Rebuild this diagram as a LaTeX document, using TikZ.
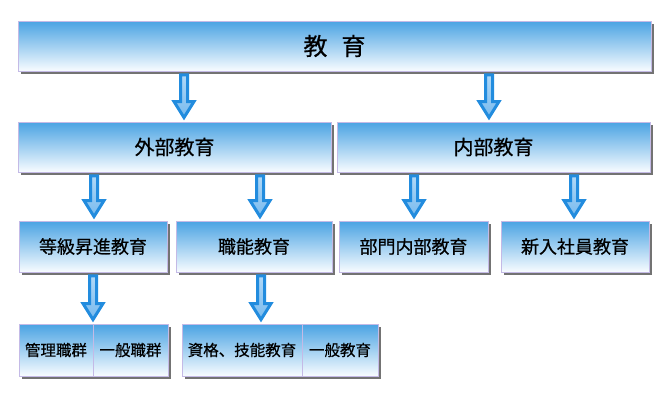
\documentclass[tikz,border=0pt]{standalone}
\usepackage{fontspec}
\newfontfamily\jp[FakeBold=0.6]{Noto Sans CJK JP}
\usetikzlibrary{shadows,calc}
\definecolor{boxtop}{RGB}{74,163,227}
\definecolor{boxbot}{RGB}{248,252,255}
\definecolor{boxedge}{RGB}{196,186,230}
\definecolor{arrowblue}{RGB}{34,140,222}
\definecolor{arrowlight}{RGB}{176,216,247}
\definecolor{arrowmid}{RGB}{120,186,238}
\tikzset{
 ebox/.style={rectangle, draw=boxedge, line width=0.9pt, top color=boxtop, bottom color=boxbot,
   inner sep=0pt, text=black, minimum height=50pt,
   drop shadow={shadow xshift=2.5pt, shadow yshift=-2.5pt, fill=black!55, opacity=1}},
 f1/.style={font=\jp\fontsize{24pt}{28pt}\selectfont},
 f2/.style={font=\jp\fontsize{20pt}{24pt}\selectfont},
 f3/.style={font=\jp\fontsize{18pt}{22pt}\selectfont},
 f4/.style={font=\jp\fontsize{15.5pt}{19pt}\selectfont},
 bigarrow/.style={draw=arrowblue, line width=3pt, line join=miter, top color=arrowlight, bottom color=arrowmid},
}
\newcommand\dnarrow[3]{%
 \coordinate (ax) at (#1pt,0);
 \path (#2.south -| ax) coordinate (as) (#3.north -| ax) coordinate (ae);
 \path[bigarrow] let \p1=(as), \p2=(ae) in
 (\x1-3.5pt,\y1-3.5pt) -- (\x1+3.5pt,\y1-3.5pt) -- (\x1+3.5pt,\y2+20pt) -- (\x1+10pt,\y2+20pt)
 -- (\x1,\y2+4pt) -- (\x1-10pt,\y2+20pt) -- (\x1-3.5pt,\y2+20pt) -- cycle;
}
\begin{document}
\begin{tikzpicture}[x=1pt,y=1pt]
\useasboundingbox (0,0) rectangle (670,-400);
% level 1
\node[ebox,f1,minimum width=633pt] (top) at (334.5,-46) {教\hspace{14pt}育};
% level 2
\node[ebox,f2,minimum width=313pt] (ext) at (174.5,-147) {外部教育};
\node[ebox,f2,minimum width=313pt] (int) at (493.5,-147) {内部教育};
% level 3
\node[ebox,f3,minimum width=148pt,minimum height=51pt] (prom) at (93,-246.5) {等級昇進教育};
\node[ebox,f3,minimum width=156pt,minimum height=51pt] (func) at (254,-246.5) {職能教育};
\node[ebox,f3,minimum width=149pt,minimum height=51pt] (dept) at (413.5,-246.5) {部門内部教育};
\node[ebox,f3,minimum width=148pt,minimum height=51pt] (newc) at (575,-246.5) {新入社員教育};
% level 4
\node[ebox,f4,minimum width=74pt,minimum height=52pt] (mgr) at (56,-350) {管理職群};
\node[ebox,f4,minimum width=75pt,minimum height=52pt] (gen) at (130.5,-350) {一般職群};
\node[ebox,f4,minimum width=120pt,minimum height=52pt] (skill) at (242,-350) {資格、技能教育};
\node[ebox,f4,minimum width=76pt,minimum height=52pt] (gened) at (340,-350) {一般教育};
% arrows
\dnarrow{184}{top}{ext}
\dnarrow{489}{top}{int}
\dnarrow{94}{ext}{prom}
\dnarrow{260}{ext}{func}
\dnarrow{414}{int}{dept}
\dnarrow{574}{int}{newc}
\dnarrow{93}{prom}{mgr}
\dnarrow{261}{func}{skill}
\end{tikzpicture}
\end{document}
